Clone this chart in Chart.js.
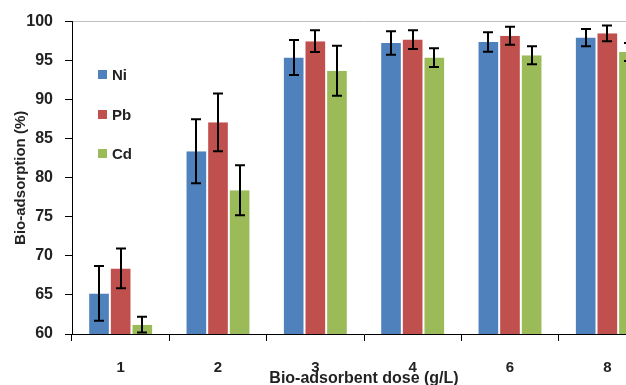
<!DOCTYPE html>
<html>
<head>
<meta charset="utf-8">
<script src="https://cdn.jsdelivr.net/npm/chart.js@4.4.0/dist/chart.umd.min.js"></script>
<style>
  html, body { margin: 0; padding: 0; background: #fff; overflow: hidden; }
  #wrap { position: relative; width: 660px; height: 385px; }
  #legend { position: absolute; left: 98px; top: 66px; font: bold 15px "Liberation Sans", Arial, sans-serif; color: #222; }
  #legend .item { height: 39.5px; display: flex; align-items: flex-start; }
  #legend .box { width: 9px; height: 9px; margin-top: 4px; margin-right: 5px; }
</style>
</head>
<body>
<div id="wrap">
  <canvas id="chart"></canvas>
  <div id="legend"></div>
</div>
<script>
// dose (g/L)
var doses = ['1', '2', '3', '4', '6', '8'];

// bio-adsorption (%) and error
var niValues = [65.2, 83.4, 95.4, 97.25, 97.4, 97.95];
var niErrors = [3.5, 4.1, 2.25, 1.5, 1.25, 1.1];
var pbValues = [68.4, 87.1, 97.5, 97.7, 98.2, 98.5];
var pbErrors = [2.55, 3.7, 1.4, 1.2, 1.15, 1.0];
var cdValues = [61.2, 78.4, 93.7, 95.4, 95.7, 96.1];
var cdErrors = [1.0, 3.2, 3.2, 1.2, 1.15, 1.15];

var seriesNames = ['Ni', 'Pb', 'Cd'];
var seriesColors = ['#4F81BD', '#C0504D', '#9BBB59'];

var yMin = 60;
var yMax = 100;
var yStep = 5;

var fontFamily = '"Liberation Sans", Arial, sans-serif';

// barres d'erreur
var errorBars = {
  id: 'errorBars',
  afterDatasetsDraw: function (chart) {
    var ctx = chart.ctx;
    var yScale = chart.scales.y;
    ctx.save();
    ctx.strokeStyle = '#000';
    ctx.lineWidth = 2;
    chart.data.datasets.forEach(function (ds, i) {
      var meta = chart.getDatasetMeta(i);
      meta.data.forEach(function (bar, j) {
        var v = ds.data[j];
        var e = ds.errors[j];
        var yTop = yScale.getPixelForValue(v + e);
        var yBot = yScale.getPixelForValue(v - e);
        var x = Math.round(bar.x);
        ctx.beginPath();
        ctx.moveTo(x, yTop);
        ctx.lineTo(x, yBot);
        ctx.moveTo(x - 5, yTop);
        ctx.lineTo(x + 5, yTop);
        ctx.moveTo(x - 5, yBot);
        ctx.lineTo(x + 5, yBot);
        ctx.stroke();
      });
    });
    ctx.restore();
  }
};

var allValues = [niValues, pbValues, cdValues];
var allErrors = [niErrors, pbErrors, cdErrors];

var datasets = seriesNames.map(function (name, i) {
  return {
    label: name,
    data: allValues[i],
    errors: allErrors[i],
    backgroundColor: seriesColors[i],
    borderColor: 'rgba(255,255,255,0.35)',
    borderWidth: { top: 0, left: 1, right: 1, bottom: 0 },
    borderSkipped: 'bottom',
    categoryPercentage: 0.667,
    barPercentage: 1.0
  };
});

new Chart(document.getElementById('chart').getContext('2d'), {
  type: 'bar',
  data: { labels: doses, datasets: datasets },
  plugins: [errorBars],
  options: {
    responsive: true,
    maintainAspectRatio: false,
    animation: false,
    layout: { padding: { left: 0, right: 4, top: 20, bottom: 0 } },
    plugins: {
      legend: { display: false },
      tooltip: { enabled: false }
    },
    scales: {
      x: {
        offset: true,
        grid: {
          offset: true,
          drawOnChartArea: false,
          drawTicks: true,
          tickLength: 7,
          tickColor: '#000'
        },
        border: { color: '#000', width: 1 },
        ticks: {
          color: '#222',
          padding: 18,
          maxRotation: 0,
          font: { family: fontFamily, size: 15, weight: 'bold' }
        },
        title: {
          display: true,
          text: 'Bio-adsorbent dose (g/L)',
          color: '#222',
          padding: { top: 0, bottom: -3 },
          font: { family: fontFamily, size: 16, weight: 'bold' }
        },
        afterFit: function (scale) { scale.height = 51; }
      },
      y: {
        min: yMin,
        max: yMax,
        ticks: {
          stepSize: yStep,
          color: '#222',
          padding: 12,
          font: { family: fontFamily, size: 16, weight: 'bold' }
        },
        grid: {
          color: function (c) { return c.tick && c.tick.value === yMax ? '#c0c0c0' : 'rgba(0,0,0,0)'; },
          tickColor: '#000',
          tickLength: 7,
          lineWidth: 1
        },
        border: { color: '#000', width: 1 },
        title: {
          display: true,
          text: 'Bio-adsorption (%)',
          color: '#222',
          padding: { top: 12, bottom: 0 },
          font: { family: fontFamily, size: 15, weight: 'bold' }
        },
        afterFit: function (scale) { scale.width = 72; }
      }
    }
  }
});

// légende
var html = '';
seriesNames.forEach(function (name, i) {
  html += '<div class="item"><div class="box" style="background:' + seriesColors[i] + '"></div>' + name + '</div>';
});
document.getElementById('legend').innerHTML = html;
</script>
</body>
</html>
